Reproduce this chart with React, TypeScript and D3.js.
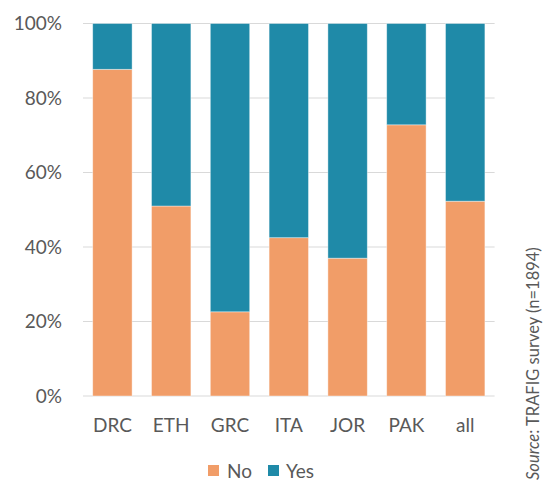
import React from "react";
import * as d3 from "d3";

const categories = ["DRC", "ETH", "GRC", "ITA", "JOR", "PAK", "all"];
const noValues = [87.7, 51.0, 22.6, 42.5, 37.0, 72.8, 52.3];
const yesValues = noValues.map((v) => 100 - v);
const seriesNames = ["No", "Yes"];
const seriesColors = ["#F19D68", "#1F8AA8"];
const yTicks = [0, 20, 40, 60, 80, 100];

export default function App() {
  const W = 545, H = 482;
  const left = 83, right = 494.6, top = 23.5, bottom = 396;
  const x = d3.scaleBand<string>().domain(categories).range([left, right]).paddingInner(0.33).paddingOuter(0.165);
  const y = d3.scaleLinear().domain([0, 100]).range([bottom, top]);
  const font = "Lato, 'Open Sans', sans-serif";
  const txt = "#595959";
  const stacked = d3.stack<any>().keys(seriesNames)(
    categories.map((c, i) => ({ cat: c, No: noValues[i], Yes: yesValues[i] }))
  );
  return (
    <svg width={W} height={H} style={{ position: "absolute", left: 0, top: 0 }}>
      <rect width={W} height={H} fill="#fff" />
      {yTicks.map((t) => (
        <g key={t}>
          <line x1={left} x2={right} y1={y(t)} y2={y(t)} stroke="#d9d9d9" strokeWidth={1.2} />
          <text x={62} y={y(t)} dy="0.35em" textAnchor="end" fontFamily={font} fontSize={19} fill={txt}>
            {t}%
          </text>
        </g>
      ))}
      {stacked.map((s, si) => (
        <g key={si}>
          {s.map((d, i) => (
            <rect
              key={i}
              x={x(categories[i])}
              width={x.bandwidth()}
              y={y(d[1])}
              height={y(d[0]) - y(d[1])}
              fill={seriesColors[si]}
              stroke="#ffffff"
              strokeOpacity={0.5}
              strokeWidth={0.8}
            />
          ))}
        </g>
      ))}
      {categories.map((c) => (
        <text key={c} x={(x(c) as number) + x.bandwidth() / 2} y={432} textAnchor="middle" fontFamily={font} fontSize={19} fill={txt}>
          {c}
        </text>
      ))}
      <g>
        <rect x={208} y={465} width={11} height={11} fill={seriesColors[0]} />
        <text x={227} y={478} fontFamily={font} fontSize={19} fill={txt}>{seriesNames[0]}</text>
        <rect x={268} y={465} width={11} height={11} fill={seriesColors[1]} />
        <text x={286} y={478} fontFamily={font} fontSize={19} fill={txt}>{seriesNames[1]}</text>
      </g>
      <text transform="translate(539,480) rotate(-90)" fontFamily={font} fontSize={16.5} fill={txt}>
        <tspan fontStyle="italic">Source</tspan>: TRAFIG survey (n=1894)
      </text>
    </svg>
  );
}
